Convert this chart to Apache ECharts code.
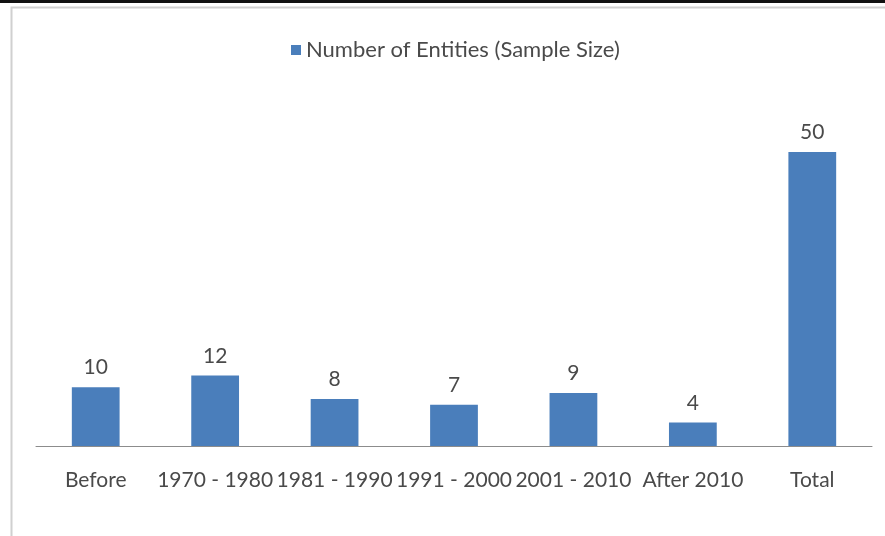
<!DOCTYPE html>
<html>
<head>
<meta charset="utf-8">
<script src="https://cdn.jsdelivr.net/npm/echarts@6/dist/echarts.min.js"></script>
<style>
  html, body { margin: 0; padding: 0; background: #ffffff; }
  #chart { width: 885px; height: 536px; }
</style>
</head>
<body>
<div id="chart"></div>
<script>
// Entities by period of establishment
const categories = ['Before', '1970 - 1980', '1981 - 1990', '1991 - 2000', '2001 - 2010', 'After 2010', 'Total'];
const entityCounts = [10, 12, 8, 7, 9, 4, 50];
const seriesName = 'Number of Entities (Sample Size)';

const FONT = 'Lato, "Open Sans", sans-serif';
const TEXT_COLOR = '#4a4a4a';
const BAR_COLOR = '#4a7ebb';

const chart = echarts.init(document.getElementById('chart'), null, { renderer: 'canvas' });

chart.setOption({
  backgroundColor: '#ffffff',
  animation: false,
  graphic: [
    // frame around the plot
    { type: 'rect', left: 0, top: 0, shape: { width: 885, height: 3 }, style: { fill: '#111111' }, silent: true },
    { type: 'rect', left: 9, top: 5, shape: { width: 900, height: 560 },
      style: { fill: 'none', stroke: '#d0d0d0', lineWidth: 2 }, silent: true }
  ],
  legend: {
    top: 34,
    left: 286,
    itemWidth: 10,
    itemHeight: 10,
    itemGap: 6,
    icon: 'rect',
    data: [seriesName],
    textStyle: { color: TEXT_COLOR, fontFamily: FONT, fontSize: 22 }
  },
  grid: { left: 36, right: 13, top: 152, bottom: 90, containLabel: false },
  xAxis: {
    type: 'category',
    data: categories,
    axisLine: { lineStyle: { color: '#8c8c8c', width: 1 } },
    axisTick: { show: false },
    axisLabel: {
      interval: 0,
      hideOverlap: false,
      margin: 24,
      color: TEXT_COLOR,
      fontFamily: FONT,
      fontSize: 21
    }
  },
  yAxis: {
    type: 'value',
    min: 0,
    max: 50,
    show: false,
    splitLine: { show: false }
  },
  series: [{
    name: seriesName,
    type: 'bar',
    data: entityCounts,
    barWidth: '40%',
    itemStyle: { color: BAR_COLOR },
    label: {
      show: true,
      position: 'top',
      distance: 9,
      color: TEXT_COLOR,
      fontFamily: FONT,
      fontSize: 21
    }
  }]
});
</script>
</body>
</html>
